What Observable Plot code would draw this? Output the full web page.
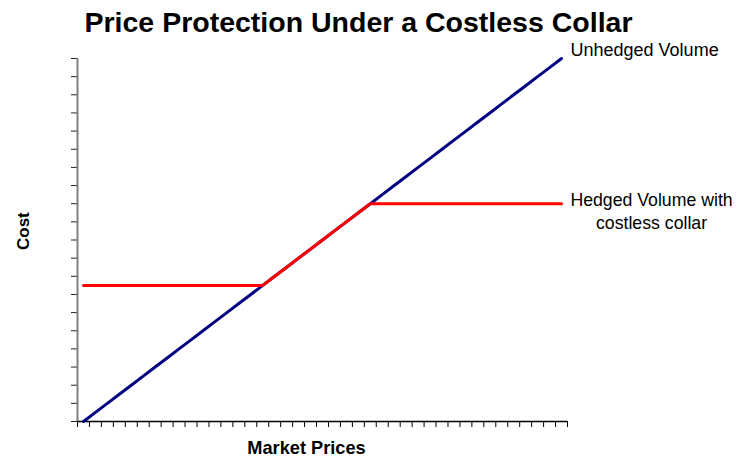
<!DOCTYPE html>
<html><head><meta charset="utf-8">
<script src="https://cdn.jsdelivr.net/npm/d3@7"></script>
<script src="https://cdn.jsdelivr.net/npm/@observablehq/plot@0.6"></script>
<style>html,body{margin:0;padding:0;background:#fff} #chart svg{display:block}</style>
</head><body><div id="chart"></div>
<script>
const title = "Price Protection Under a Costless Collar";
const xTitle = "Market Prices";
const yTitle = "Cost";
const unhedgedLabel = "Unhedged Volume";
const hedgedLabel = "Hedged Volume with\ncostless collar";

const categories = [1,2,3,4,5,6,7,8,9,10,11,12,13,14,15,16,17,18,19,20,21,22,23,24,25,26,27,28,29,30,31,32,33,34,35,36,37,38,39,40,41];
const unhedged = [0,0.5,1,1.5,2,2.5,3,3.5,4,4.5,5,5.5,6,6.5,7,7.5,8,8.5,9,9.5,10,10.5,11,11.5,12,12.5,13,13.5,14,14.5,15,15.5,16,16.5,17,17.5,18,18.5,19,19.5,20];
const hedged = [7.5,7.5,7.5,7.5,7.5,7.5,7.5,7.5,7.5,7.5,7.5,7.5,7.5,7.5,7.5,7.5,8,8.5,9,9.5,10,10.5,11,11.5,12,12,12,12,12,12,12,12,12,12,12,12,12,12,12,12,12];
const yTickValues = [0,1,2,3,4,5,6,7,8,9,10,11,12,13,14,15,16,17,18,19,20];

const rows = categories.map((c, i) => ({c, u: unhedged[i], h: hedged[i]}));
const xTickValues = [categories[0] - 0.5, ...categories.map(c => c + 0.5)];
const last = categories.length - 1;

const chart = Plot.plot({
  width: 743, height: 457,
  marginLeft: 77, marginRight: 176, marginTop: 58, marginBottom: 36,
  style: {fontFamily: "'Liberation Sans', Arial, sans-serif", background: "#fff", color: "#000", overflow: "visible"},
  x: {type: "linear", domain: [categories[0] - 0.5, categories[last] + 0.5]},
  y: {domain: [0, 20]},
  marks: [
    Plot.axisX(xTickValues, {tickSize: 6, tickFormat: () => "", stroke: "#000", label: null}),
    Plot.axisY(yTickValues, {tickSize: 6, tickFormat: () => "", stroke: "#222", label: null}),
    Plot.ruleX([categories[0] - 0.5], {stroke: "#808080", strokeWidth: 2}),
    Plot.ruleY([0], {stroke: "#000", strokeWidth: 1.3}),
    Plot.line(rows, {x: "c", y: "u", stroke: "#000080", strokeWidth: 3}),
    Plot.line(rows, {x: "c", y: "h", stroke: "#ff0000", strokeWidth: 3}),
    Plot.text([unhedgedLabel], {x: categories[last], y: unhedged[last], text: d => d, textAnchor: "start", dx: 9, dy: -8, fontSize: 18, fill: "#000"}),
    Plot.text([hedgedLabel], {x: categories[last], y: hedged[last], text: d => d, textAnchor: "middle", dx: 90, dy: 6, lineHeight: 1.3, fontSize: 17.7, fill: "#000"}),
    Plot.text([title], {frameAnchor: "top", text: d => d, dx: 36, dy: -47, fontSize: 28.5, fontWeight: "bold", fill: "#000", style: "letter-spacing:0.3px"}),
    Plot.text([xTitle], {frameAnchor: "bottom", text: d => d, dx: -16, dy: 32, fontSize: 18.2, fontWeight: "bold", fill: "#000"}),
    Plot.text([yTitle], {frameAnchor: "left", text: d => d, rotate: -90, dx: -54, dy: 10, fontSize: 17, fontWeight: "bold", fill: "#000"})
  ]
});
document.getElementById("chart").append(chart);
</script>
</body></html>
